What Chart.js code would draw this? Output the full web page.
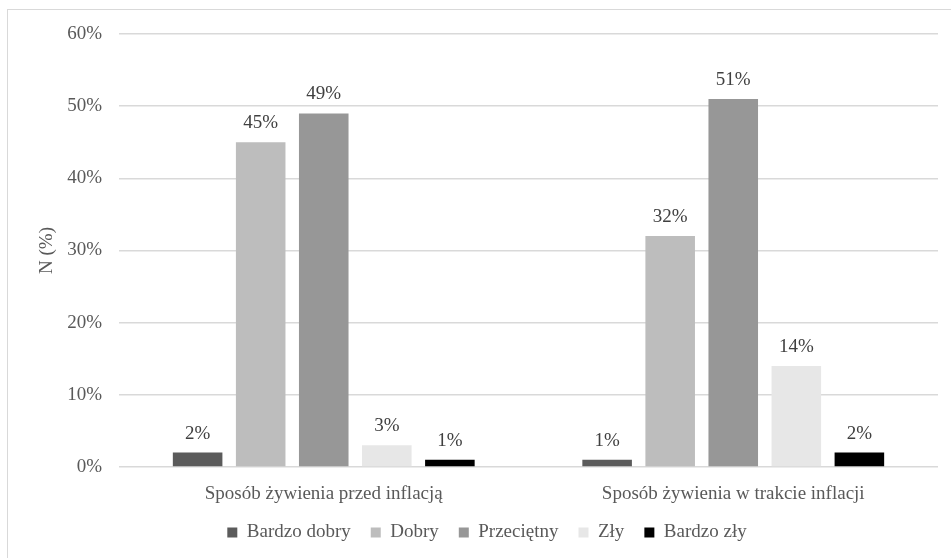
<!DOCTYPE html>
<html>
<head>
<meta charset="utf-8">
<script src="https://cdn.jsdelivr.net/npm/chart.js@4"></script>
<style>
  html, body { margin: 0; padding: 0; background: #fff; }
  #wrap { position: relative; width: 951px; height: 558px; overflow: hidden; }
  #frame { position: absolute; left: 7px; top: 9px; width: 970px; height: 580px;
           border: 1.5px solid #d9d9d9; box-sizing: border-box; }
  canvas { position: absolute; left: 0; top: 0; }
</style>
</head>
<body>
<div id="wrap">
  <div id="frame"></div>
  <canvas id="c" width="951" height="558"></canvas>
</div>
<script>
// Categories and survey shares (percent of respondents)
const categories = ['Sposób żywienia przed inflacją', 'Sposób żywienia w trakcie inflacji'];
const seriesNames = ['Bardzo dobry', 'Dobry', 'Przeciętny', 'Zły', 'Bardzo zły'];
const bardzoDobry = [2, 1];
const dobry = [45, 32];
const przecietny = [49, 51];
const zly = [3, 14];
const bardzoZly = [1, 2];
const yTicks = [0, 10, 20, 30, 40, 50, 60];

const seriesValues = [bardzoDobry, dobry, przecietny, zly, bardzoZly];
const seriesColors = ['#5b5b5b', '#bdbdbd', '#979797', '#e7e7e7', '#000000'];

const FONT = "'Liberation Serif', 'Times New Roman', serif";
const TEXT = '#595959';

// Percent labels above each bar
const barLabels = {
  id: 'barLabels',
  afterDatasetsDraw(chart) {
    const ctx = chart.ctx;
    ctx.save();
    ctx.font = '19px ' + FONT;
    ctx.fillStyle = '#404040';
    ctx.textAlign = 'center';
    ctx.textBaseline = 'middle';
    chart.data.datasets.forEach((ds, i) => {
      chart.getDatasetMeta(i).data.forEach((bar, j) => {
        ctx.fillText(ds.data[j] + '%', bar.x, bar.y - 19);
      });
    });
    ctx.restore();
  }
};

new Chart(document.getElementById('c'), {
  type: 'bar',
  data: {
    labels: categories,
    datasets: seriesNames.map((name, i) => ({
      label: name,
      data: seriesValues[i],
      backgroundColor: seriesColors[i],
      borderWidth: 0,
      categoryPercentage: 0.77,
      barPercentage: 0.786
    }))
  },
  options: {
    responsive: false,
    animation: false,
    devicePixelRatio: 1,
    layout: { padding: { left: 36, right: 13, top: 34, bottom: 6 } },
    plugins: {
      tooltip: { enabled: false },
      legend: {
        position: 'bottom',
        labels: {
          font: { family: FONT, size: 19 },
          color: TEXT,
          boxWidth: 10,
          boxHeight: 10,
          padding: 20
        }
      }
    },
    scales: {
      x: {
        grid: { display: false },
        border: { display: false },
        ticks: { font: { family: FONT, size: 19 }, color: TEXT, padding: 8 },
        afterFit(scale) { scale.height = 36; }
      },
      y: {
        min: 0,
        max: 60,
        afterBuildTicks(scale) { scale.ticks = yTicks.map(v => ({ value: v })); },
        grid: { color: '#d9d9d9', lineWidth: 1.5, drawTicks: false },
        border: { display: false },
        ticks: {
          font: { family: FONT, size: 19 },
          color: TEXT,
          padding: 17,
          callback: v => v + '%'
        },
        title: {
          display: true,
          text: 'N (%)',
          font: { family: FONT, size: 19 },
          color: TEXT,
          padding: 0
        },
        afterFit(scale) { scale.width = 83; }
      }
    }
  },
  plugins: [barLabels]
});
</script>
</body>
</html>
